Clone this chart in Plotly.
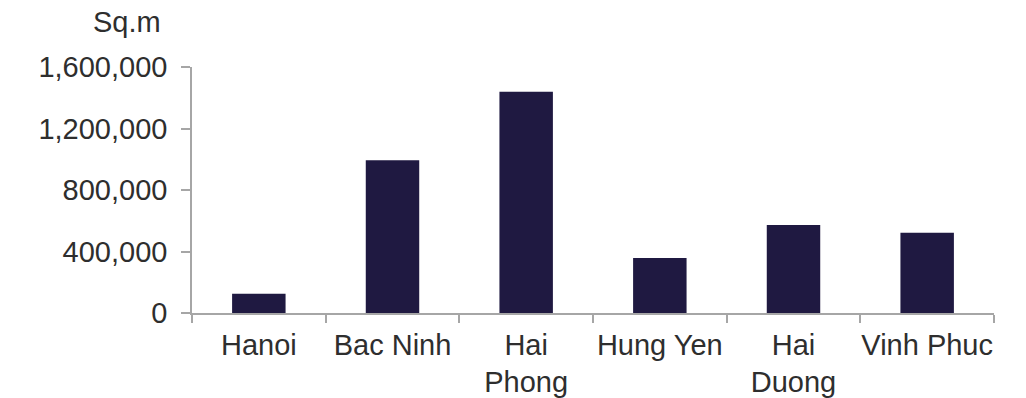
import plotly.graph_objects as go

categories = ["Hanoi", "Bac Ninh", "Hai<br>Phong", "Hung Yen", "Hai<br>Duong", "Vinh Phuc"]
values = [126000, 993000, 1439000, 357000, 572000, 522000]
y_ticks = [0, 400000, 800000, 1200000, 1600000]
y_tick_text = ["0", "400,000", "800,000", "1,200,000", "1,600,000"]
unit_label = "Sq.m"

W, H = 1026, 398
L, R, T, B = 192, 32, 67, 85
FONT = "Liberation Sans, Arial, sans-serif"
TXT = "#2E2E2E"
AX = "#A6A6A6"

fig = go.Figure(go.Bar(
    x=categories, y=values,
    marker=dict(color="#1F1941", line=dict(width=0)),
))

fig.update_layout(
    width=W, height=H,
    margin=dict(l=L, r=R, t=T, b=B, pad=0),
    paper_bgcolor="white", plot_bgcolor="white",
    bargap=0.6,
    showlegend=False,
    font=dict(family=FONT, size=29, color=TXT),
)
fig.update_xaxes(
    type="category", automargin=False, tickangle=0,
    showline=True, linecolor=AX, linewidth=1.5,
    ticks="outside", tickson="boundaries", ticklen=8, tickcolor=AX, tickwidth=1.5,
    showgrid=False, zeroline=False,
    ticklabelstandoff=5,
    tickfont=dict(family=FONT, size=29, color=TXT),
)
fig.update_yaxes(
    range=[0, 1600000], automargin=False,
    tickvals=y_ticks, ticktext=y_tick_text,
    showline=True, linecolor=AX, linewidth=1.5,
    ticks="outside", ticklen=9, tickcolor=AX, tickwidth=1.5,
    showgrid=False, zeroline=False,
    ticklabelstandoff=8,
    tickfont=dict(family=FONT, size=29, color=TXT),
)

plot_w = W - L - R
plot_h = H - T - B
fig.add_annotation(
    text=unit_label, showarrow=False,
    xref="paper", yref="paper",
    x=(163 - L) / plot_w, y=(H - B - 22) / plot_h,
    xanchor="right", yanchor="middle",
    font=dict(family=FONT, size=29, color=TXT),
)

fig.write_html("out.html")
